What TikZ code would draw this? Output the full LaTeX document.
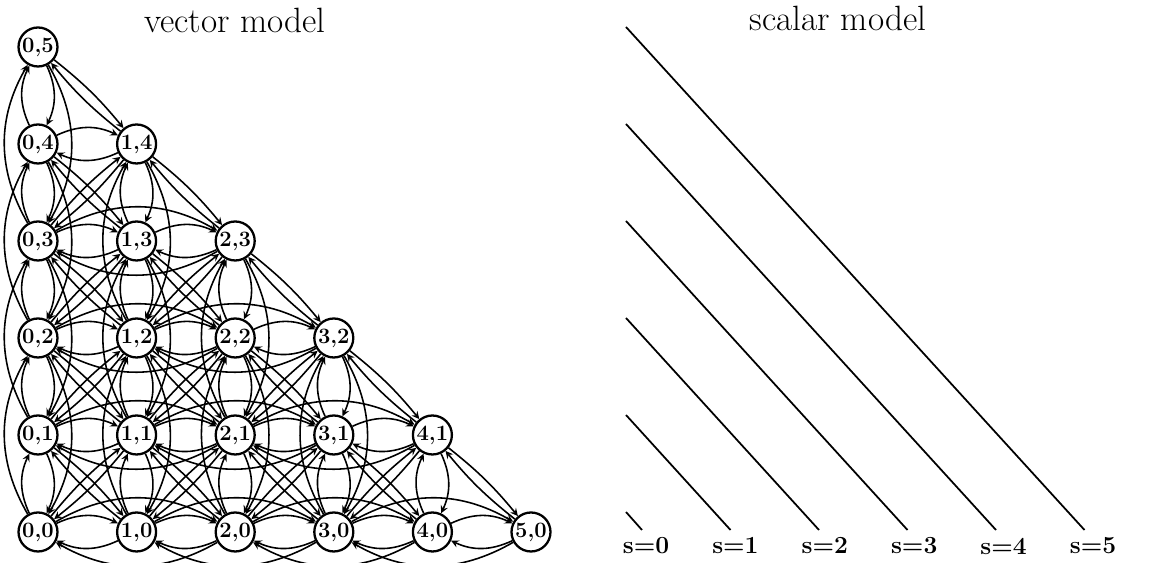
\documentclass[tikz,border=0pt]{standalone}
\usepackage{tikz}

\begin{document}
\begin{tikzpicture}[x=0.02cm,y=0.02cm,
    state/.style={circle,draw,line width=1.3pt,minimum size=0.78cm,inner sep=0pt,
        font=\fontsize{12.5}{14}\selectfont\bfseries},
    trans/.style={->,>=stealth,line width=0.9pt},
    title/.style={font=\fontsize{20}{24}\selectfont},
    slabel/.style={font=\fontsize{14}{16}\selectfont\bfseries}]
    \useasboundingbox (0,0) rectangle (1173,563);

    % Titles
    \node[title] (vtitle) at (235,543) {vector model};
    \node[title] (stitle) at (838,545) {scalar model};

    % States (i,j) with i+j <= 5
    \foreach \i in {0,...,5} {
        \foreach \j in {0,...,5} {
            \pgfmathtruncatemacro\s{\i+\j}
            \ifnum\s<6
                \node[state] (n\i\j) at ({38+98.6*\i},{31+97*\j}) {\i,\j};
            \fi
        }
    }

    % Transitions
    \foreach \i in {0,...,4} {
        \foreach \j in {0,...,4} {
            \pgfmathtruncatemacro\ii{\i+1}
            \pgfmathtruncatemacro\jj{\j+1}
            \pgfmathtruncatemacro\iii{\i+2}
            \pgfmathtruncatemacro\jjj{\j+2}
            \pgfmathtruncatemacro\s{\i+\j}
            \ifnum\s<5
                % neighbours in a row and in a column
                \draw[trans] (n\i\j) to[bend left=25] (n\ii\j);
                \draw[trans] (n\ii\j) to[bend left=25] (n\i\j);
                \draw[trans] (n\i\j) to[bend left=25] (n\i\jj);
                \draw[trans] (n\i\jj) to[bend left=25] (n\i\j);
                % anti-diagonal
                \draw[trans] (n\i\jj) to[bend left=6] (n\ii\j);
                \draw[trans] (n\ii\j) to[bend left=6] (n\i\jj);
            \fi
            \ifnum\s<4
                % diagonal
                \draw[trans] (n\i\j) to[bend left=6] (n\ii\jj);
                \draw[trans] (n\ii\jj) to[bend left=6] (n\i\j);
                % two steps in a row and in a column
                \draw[trans] (n\i\j) to[bend left=30] (n\iii\j);
                \draw[trans] (n\iii\j) to[bend left=30] (n\i\j);
                \draw[trans] (n\i\j) to[bend left=30] (n\i\jjj);
                \draw[trans] (n\i\jjj) to[bend left=30] (n\i\j);
            \fi
        }
    }

    % Scalar model: lines of constant s
    \foreach \s in {0,...,5} {
        \coordinate (top\s) at (626,{51+97*\s});
        \coordinate (bot\s) at ({642+88.5*\s},33);
        \draw[line width=1pt] (top\s) -- (bot\s);
        \node[slabel] (lbl\s) at ({646+89.4*\s},17) {s=\s};
    }
\end{tikzpicture}
\end{document}
